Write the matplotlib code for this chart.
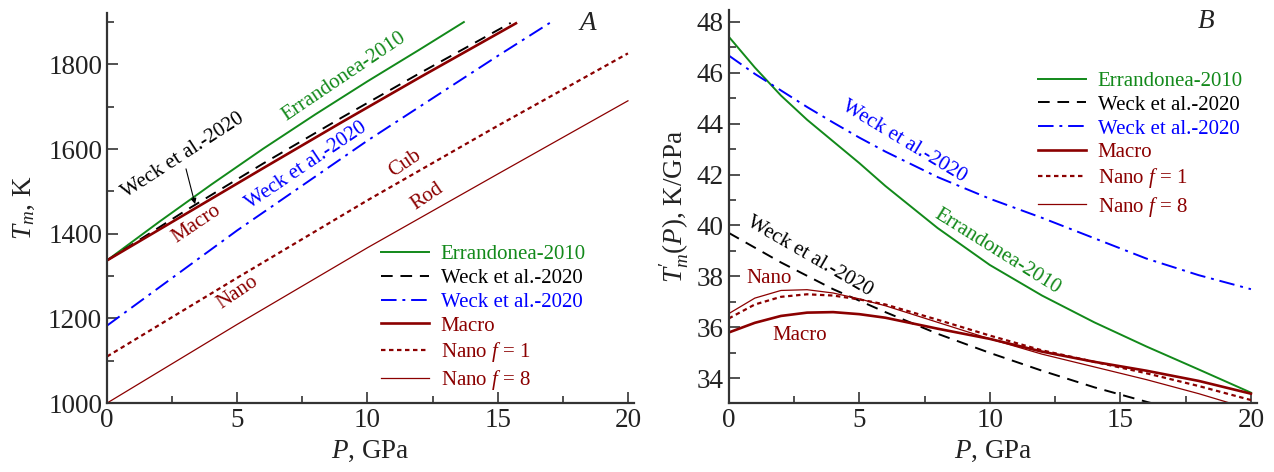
import matplotlib
matplotlib.use('Agg')
import matplotlib.pyplot as plt
from matplotlib.ticker import MultipleLocator

plt.rcParams['font.family'] = ['Liberation Serif', 'DejaVu Serif']
plt.rcParams['mathtext.fontset'] = 'custom'
plt.rcParams['mathtext.rm'] = 'Liberation Serif'
plt.rcParams['mathtext.it'] = 'Liberation Serif:italic'

# colores
VERDE = '#12891a'
ROJO = '#8b0000'
AZUL = '#0000ff'
NEGRO = 'black'
GRIS = '#333333'

# ---- Panel A: T_m(P) ----
p_err_a = [0, 2, 4, 6, 8, 10, 12, 13.7]
t_err_a = [1337, 1428, 1516, 1601, 1682, 1760, 1835, 1900]

p_weck_a = [0, 3, 6, 9, 12, 15.5]
t_weck_a = [1337, 1454, 1566, 1674, 1779, 1898]

p_weck2_a = [0, 5, 10, 15, 17]
t_weck2_a = [1183, 1408, 1620, 1820, 1898]

p_macro_a = [0, 3, 6, 9, 12, 15.7]
t_macro_a = [1337, 1446, 1555, 1663, 1769, 1897]

p_nano_a = [0, 5, 10, 15, 20]
t_nano1_a = [1110, 1296, 1479, 1655, 1826]
t_nano8_a = [1000, 1186, 1367, 1541, 1714]

# ---- Panel B: T'_m(P) ----
p_b = [0, 1, 2, 3, 4, 5, 6, 8, 10, 12, 14, 16, 18, 20]
d_err_b = [47.41, 46.2, 45.1, 44.15, 43.3, 42.45, 41.55, 39.9, 38.45, 37.25, 36.2, 35.25, 34.35, 33.44]
d_weck2_b = [46.67, 45.95, 45.3, 44.65, 44.04, 43.45, 42.9, 41.9, 41.05, 40.3, 39.5, 38.7, 38.05, 37.5]
d_macro_b = [35.8, 36.18, 36.45, 36.58, 36.6, 36.52, 36.38, 35.95, 35.55, 35.05, 34.65, 34.3, 33.9, 33.4]
d_nano1_b = [36.35, 36.9, 37.2, 37.3, 37.25, 37.1, 36.9, 36.3, 35.68, 35.1, 34.65, 34.2, 33.7, 33.15]

p_weck_b = [0, 2, 4, 6, 8, 10, 12, 14, 16, 16.3]
d_weck_b = [39.71, 38.55, 37.5, 36.6, 35.75, 35.0, 34.3, 33.65, 33.08, 33.0]

p_nano8_b = [0, 1, 2, 3, 4, 5, 6, 8, 10, 12, 14, 16, 18, 19.3]
d_nano8_b = [36.54, 37.15, 37.45, 37.48, 37.35, 37.12, 36.85, 36.2, 35.55, 34.95, 34.45, 33.95, 33.4, 33.0]

etiquetas = ['Errandonea-2010', 'Weck et al.-2020', 'Weck et al.-2020',
             'Macro', 'Nano $f$ = 1', 'Nano $f$ = 8']

fig = plt.figure(figsize=(12.74, 4.72), dpi=100)
axA = fig.add_axes([0.084, 0.146, 0.414, 0.827])
axB = fig.add_axes([0.572, 0.146, 0.415, 0.833])


def estilo_curvas(ax, datos):
    (x1, y1), (x2, y2), (x3, y3), (x4, y4), (x5, y5), (x6, y6) = datos
    ax.plot(x1, y1, color=VERDE, lw=1.4, label=etiquetas[0])
    ax.plot(x2, y2, color=NEGRO, lw=1.4, dashes=(6, 4), label=etiquetas[1])
    ax.plot(x3, y3, color=AZUL, lw=1.4, dashes=(8, 3, 1.5, 3), label=etiquetas[2])
    ax.plot(x4, y4, color=ROJO, lw=1.9, label=etiquetas[3])
    ax.plot(x5, y5, color=ROJO, lw=1.6, dashes=(2, 1.6), label=etiquetas[4])
    ax.plot(x6, y6, color=ROJO, lw=0.9, label=etiquetas[5])


def ejes(ax):
    for s in ['top', 'right']:
        ax.spines[s].set_visible(False)
    for s in ['left', 'bottom']:
        ax.spines[s].set_linewidth(1.6)
        ax.spines[s].set_color(GRIS)
    ax.tick_params(which='both', direction='in', colors=GRIS, width=1.2,
                   labelsize=19.5, labelcolor='#222222')
    ax.tick_params(which='major', length=8)
    ax.tick_params(which='minor', length=5)
    ax.xaxis.set_major_locator(MultipleLocator(5))
    ax.xaxis.set_minor_locator(MultipleLocator(2.5))
    ax.set_xlim(0, 20.25)
    ax.set_xlabel('$P$, GPa', fontsize=19.5, color='#222222', labelpad=4)


# Panel A
estilo_curvas(axA, [(p_err_a, t_err_a), (p_weck_a, t_weck_a), (p_weck2_a, t_weck2_a),
                    (p_macro_a, t_macro_a), (p_nano_a, t_nano1_a), (p_nano_a, t_nano8_a)])
ejes(axA)
axA.set_ylim(1000, 1922)
axA.yaxis.set_major_locator(MultipleLocator(200))
axA.yaxis.set_minor_locator(MultipleLocator(100))
axA.set_ylabel('$T_m$, K', fontsize=19.5, color='#222222', labelpad=8)
axA.legend(loc='upper left', bbox_to_anchor=(0.50, 0.432), frameon=False, fontsize=15,
           labelcolor='linecolor', borderpad=0, labelspacing=0.2, handlelength=2.3,
           handletextpad=0.55)

axA.text(9.1, 1772, 'Errandonea-2010', color=VERDE, fontsize=15, rotation=34,
         ha='center', va='center')
axA.annotate('Weck et al.-2020', xy=(3.38, 1470), xytext=(2.9, 1585), color=NEGRO,
             fontsize=15, rotation=33, ha='center', va='center',
             arrowprops=dict(arrowstyle='-|>', color=NEGRO, lw=0.8,
                             shrinkA=10, shrinkB=0, mutation_scale=8))
axA.text(3.45, 1424, 'Macro', color=ROJO, fontsize=15, rotation=34, ha='center', va='center')
axA.text(7.65, 1562, 'Weck et al.-2020', color=AZUL, fontsize=15, rotation=34,
         ha='center', va='center')
axA.text(11.45, 1566, 'Cub', color=ROJO, fontsize=15, rotation=34, ha='center', va='center')
axA.text(12.3, 1487, 'Rod', color=ROJO, fontsize=15, rotation=34, ha='center', va='center')
axA.text(5.0, 1262, 'Nano', color=ROJO, fontsize=15, rotation=34, ha='center', va='center')
axA.text(18.45, 1896, 'A', fontsize=19.5, style='italic', color='#222222', ha='center', va='center')

# Panel B
estilo_curvas(axB, [(p_b, d_err_b), (p_weck_b, d_weck_b), (p_b, d_weck2_b),
                    (p_b, d_macro_b), (p_b, d_nano1_b), (p_nano8_b, d_nano8_b)])
ejes(axB)
axB.set_ylim(33.03, 48.46)
axB.yaxis.set_major_locator(MultipleLocator(2))
axB.yaxis.set_minor_locator(MultipleLocator(1))
axB.set_ylabel("$T^{\\prime}_m(P)$, K/GPa", fontsize=19.5, color='#222222', labelpad=4)
axB.legend(loc='upper left', bbox_to_anchor=(0.566, 0.87), frameon=False, fontsize=15,
           labelcolor='linecolor', borderpad=0, labelspacing=0.2, handlelength=2.3,
           handletextpad=0.55)

axB.text(6.7, 43.28, 'Weck et al.-2020', color=AZUL, fontsize=15, rotation=-31,
         ha='center', va='center')
axB.text(10.3, 38.96, 'Errandonea-2010', color=VERDE, fontsize=15, rotation=-32,
         ha='center', va='center')
axB.text(3.08, 38.77, 'Weck et al.-2020', color=NEGRO, fontsize=15, rotation=-30,
         ha='center', va='center')
axB.text(1.54, 37.9, 'Nano', color=ROJO, fontsize=15, ha='center', va='center')
axB.text(2.72, 35.7, 'Macro', color=ROJO, fontsize=15, ha='center', va='center')
axB.text(18.3, 48.0, 'B', fontsize=19.5, style='italic', color='#222222', ha='center', va='center')

fig.savefig('out.png', dpi=100)
